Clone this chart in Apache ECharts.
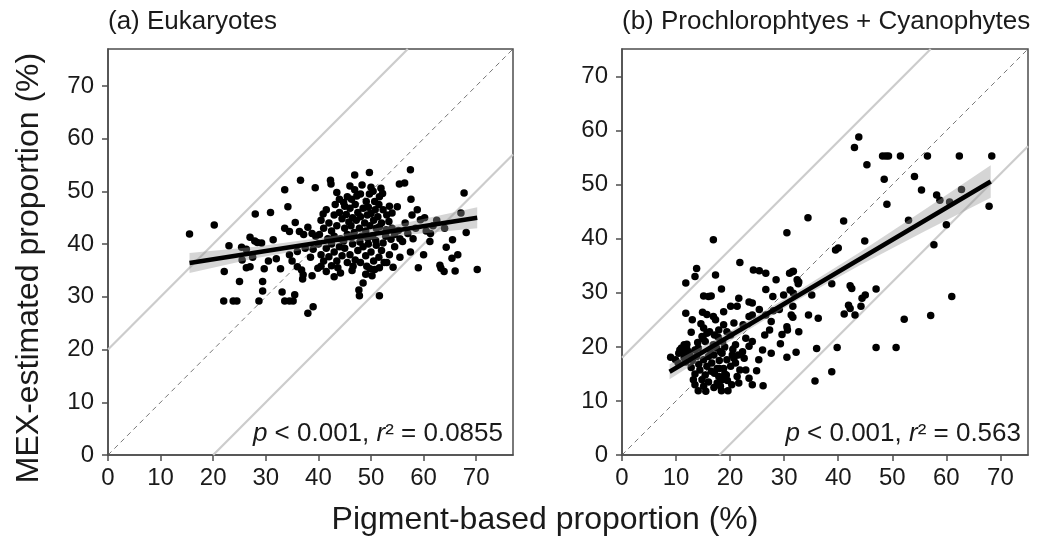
<!DOCTYPE html>
<html>
<head>
<meta charset="utf-8">
<title>MEX vs pigment proportions</title>
<script src="https://cdn.jsdelivr.net/npm/echarts@6/dist/echarts.min.js"></script>
<style>
    html, body { margin: 0; padding: 0; background: #fff; }
    #chart { width: 1060px; height: 542px; }
</style>
</head>
<body>
<div id="chart"></div>
<script>
// axis ticks (both panels)
var tickVals = [0, 10, 20, 30, 40, 50, 60, 70];
var axisMaxA = 77;
var axisMaxB = 75.1;

// (a) Eukaryotes: [pigment %, MEX %]
var eukPts = [
    [15.5, 41.9], [20.2, 43.6], [23.0, 39.7], [22.1, 34.8], [22.0, 29.2], [23.8, 29.2], [24.5, 29.2], [25.0, 32.9],
    [26.3, 35.5], [27.0, 35.7], [25.4, 39.4], [26.3, 39.0], [27.0, 41.3], [27.9, 40.6], [28.4, 40.3], [29.2, 40.2],
    [31.4, 40.8], [28.0, 45.7], [30.9, 46.0], [28.7, 29.2], [29.4, 32.9], [29.4, 31.1], [29.7, 35.3], [25.5, 37.0],
    [27.5, 37.5], [30.5, 36.8], [32.0, 37.2], [33.6, 50.3], [34.2, 47.1], [36.6, 52.1], [39.4, 50.7], [40.9, 45.7],
    [33.6, 43.0], [34.5, 42.4], [35.6, 44.1], [36.4, 42.4], [37.2, 41.8], [38.0, 43.2], [38.8, 42.0], [39.5, 41.5],
    [32.8, 35.3], [33.1, 30.9], [33.6, 29.2], [34.5, 29.2], [35.2, 29.2], [35.5, 30.4], [36.0, 35.7], [36.8, 35.1],
    [37.1, 34.2], [37.0, 33.4], [39.0, 28.1], [38.0, 26.9], [39.9, 35.4], [34.5, 38.0], [36.0, 38.6], [37.5, 39.2],
    [35.0, 36.8], [38.5, 37.5], [39.0, 39.0],
    [42.3, 52.1], [42.4, 51.4], [46.9, 53.1], [49.7, 53.6], [57.5, 54.1], [55.4, 51.4], [56.4, 51.6], [48.3, 51.2],
    [50.0, 50.8], [50.4, 50.0], [49.7, 49.5], [51.9, 50.6], [52.2, 49.6], [51.6, 49.0], [50.7, 48.1], [49.1, 48.1],
    [46.9, 50.3], [47.3, 49.1], [46.3, 48.5], [57.6, 48.5], [67.7, 49.7], [67.1, 45.9], [68.1, 42.2], [70.2, 35.2],
    [55.0, 47.1], [54.0, 45.9], [53.4, 44.3], [51.6, 43.3], [52.9, 42.7],
    [61.3, 42.0], [64.3, 39.4], [65.4, 37.3], [63.1, 36.0], [63.3, 35.4], [63.9, 34.8], [66.0, 34.9], [59.4, 44.6],
    [60.5, 42.5], [61.2, 40.5], [58.5, 43.0], [57.0, 42.0], [58.0, 41.0], [56.0, 40.5], [57.5, 38.5], [55.5, 37.5],
    [60.0, 38.0], [59.0, 35.5], [54.2, 35.6], [51.6, 35.5], [50.7, 35.2], [49.8, 35.3], [49.2, 35.8], [46.6, 35.8],
    [43.7, 35.5], [42.5, 35.9], [48.5, 32.6], [47.7, 31.3], [47.8, 30.2], [51.6, 30.2], [52.5, 36.5], [53.5, 38.0],
    [54.5, 39.5], [55.5, 41.0],
    [40.5, 44.5], [41.0, 43.0], [41.5, 46.5], [42.0, 44.0], [42.5, 42.5], [43.0, 45.5], [43.2, 47.5], [43.5, 43.5],
    [44.0, 46.0], [44.2, 41.0], [44.5, 44.8], [45.0, 47.2], [45.0, 43.0], [45.3, 45.6], [45.5, 41.8], [45.8, 44.2],
    [46.0, 46.8], [46.2, 43.5], [46.5, 45.0], [46.8, 42.2], [47.0, 47.5], [47.2, 44.5], [47.5, 46.0], [47.8, 43.0],
    [48.0, 45.2], [48.2, 41.5], [48.5, 46.8], [48.8, 44.0], [49.0, 42.5], [49.3, 45.5], [49.5, 47.0], [49.8, 43.5],
    [50.0, 45.8], [50.3, 41.5], [50.5, 44.5], [50.8, 46.5], [51.0, 43.0], [51.3, 45.2], [51.5, 47.5], [52.0, 44.0],
    [52.3, 46.5], [52.8, 41.5], [53.0, 45.5], [53.5, 47.2], [54.0, 43.0], [54.5, 41.8], [44.0, 48.5], [45.5, 49.0],
    [46.0, 51.0], [48.0, 49.5], [43.5, 49.8], [44.8, 47.9],
    [40.0, 40.0], [40.5, 38.0], [41.0, 36.8], [41.5, 39.2], [42.0, 37.6], [42.5, 40.0], [43.0, 38.5], [43.5, 36.8],
    [44.0, 39.5], [44.5, 37.8], [45.0, 39.2], [45.5, 36.5], [46.0, 38.0], [46.5, 40.0], [47.0, 37.0], [47.5, 38.8],
    [48.0, 36.5], [48.5, 39.5], [49.0, 37.8], [49.5, 40.0], [50.0, 38.5], [50.5, 36.8], [51.0, 39.8], [51.5, 37.5],
    [52.0, 38.8], [53.0, 36.5], [44.2, 34.5], [46.4, 35.0], [49.0, 34.3], [50.2, 34.0], [41.5, 34.8], [43.0, 33.8],
    [40.5, 35.8], [38.8, 34.0],
    [40.2, 41.8], [41.8, 41.0], [43.0, 41.5], [44.8, 40.6], [46.3, 41.3], [47.9, 40.4], [49.4, 41.1], [50.9, 40.7],
    [52.3, 40.2], [53.8, 40.9], [55.2, 42.6], [56.5, 44.0], [57.8, 45.5], [58.8, 46.5], [60.2, 45.0], [61.8, 43.5],
    [62.5, 44.5], [64.0, 43.0], [65.5, 40.8], [66.5, 38.0]
];
var eukFit = [[15.5, 36.4], [70.2, 45.0]];
var eukBandX = [15.5, 28, 42, 56, 70.2];
var eukBandLo = [34.5, 37.3, 39.8, 41.7, 43.0];
var eukBandHi = [38.3, 39.5, 41.4, 43.9, 47.0];
var eukUpper = [[0, 20], [57, 77]];
var eukLower = [[20, 0], [77, 57]];
var eukIdentity = [[0, 0], [77, 77]];

// (b) Prochlorophytes + Cyanophytes
var cyaPts = [
    [16.9, 39.8], [13.8, 34.5], [13.5, 33.0], [17.3, 33.3], [21.8, 35.6], [24.3, 34.2], [25.4, 34.1], [26.6, 33.6],
    [30.5, 41.1], [31.5, 33.9], [34.4, 43.9], [43.0, 56.9], [43.8, 58.8], [45.3, 53.7], [41.0, 43.3], [39.5, 37.9],
    [40.0, 38.3], [44.9, 39.6], [48.2, 55.3], [48.8, 55.3], [49.3, 55.3], [51.5, 55.3], [56.5, 55.3], [62.4, 55.3],
    [68.4, 55.3], [48.5, 51.0], [49.0, 46.4], [54.1, 51.5], [55.4, 49.0], [58.2, 48.1], [58.8, 47.1], [60.6, 46.8],
    [62.8, 49.1], [53.0, 43.4], [60.0, 42.6], [57.7, 38.9], [67.9, 46.0],
    [31.7, 34.0], [32.7, 32.0], [31.1, 30.5], [31.7, 29.9], [38.8, 31.7], [35.1, 29.6], [42.2, 31.3], [42.5, 30.8],
    [47.0, 30.7], [45.0, 29.6], [44.4, 29.0], [41.9, 27.7], [42.2, 27.1], [44.2, 27.5], [41.1, 26.1], [43.1, 25.9],
    [36.3, 25.3], [34.5, 25.9], [31.6, 25.5], [30.5, 23.7], [30.6, 23.1], [29.6, 22.3], [32.7, 22.8], [29.3, 20.6],
    [32.2, 19.0], [30.5, 18.1], [36.0, 19.7], [39.8, 19.9], [47.0, 19.9], [50.7, 19.9], [52.2, 25.1], [57.1, 25.8],
    [61.0, 29.3], [38.8, 15.4], [35.7, 13.7],
    [27.6, 18.8], [26.4, 22.2], [26.1, 12.8], [24.1, 13.0], [24.9, 15.6], [25.3, 17.6], [26.0, 19.4], [24.1, 28.1],
    [23.5, 28.3], [21.6, 29.0], [21.3, 27.5], [23.5, 25.6], [24.1, 25.9], [22.4, 24.1], [22.9, 21.6], [22.3, 19.1],
    [22.6, 17.9], [21.0, 20.4], [20.7, 17.9], [21.0, 17.0], [21.8, 15.7], [21.3, 14.5], [21.6, 13.3], [19.6, 11.9],
    [18.4, 11.9], [20.3, 13.0], [18.5, 13.9], [19.3, 14.8], [18.8, 16.0], [18.2, 19.1], [18.6, 21.0], [18.4, 30.7],
    [16.5, 29.4], [16.0, 29.3], [15.1, 29.4], [11.8, 31.8], [11.8, 26.2], [13.0, 25.0], [12.8, 22.7], [14.9, 26.4],
    [14.6, 24.3], [15.1, 23.5], [16.9, 25.6], [17.3, 25.0], [18.8, 26.5], [20.1, 27.5], [20.7, 24.4], [9.0, 18.1],
    [9.9, 17.6], [10.4, 17.0], [10.7, 19.4], [11.5, 20.4], [11.9, 20.1], [11.3, 18.8], [12.3, 19.1], [13.5, 19.4],
    [14.1, 19.8], [13.2, 13.9], [13.5, 13.0], [14.1, 11.9], [15.1, 12.7], [14.8, 13.9], [15.4, 14.8], [14.4, 15.7],
    [15.7, 16.4], [15.1, 17.6], [16.0, 18.2], [16.6, 17.0], [17.6, 16.0], [17.1, 15.1], [17.9, 14.5], [17.6, 13.3],
    [18.2, 12.7], [16.3, 19.4], [16.9, 20.4], [15.4, 21.0], [14.8, 21.9], [15.7, 22.5], [17.1, 22.2], [17.9, 23.1],
    [18.8, 24.1], [19.4, 22.8], [20.1, 22.2], [20.4, 18.5], [20.1, 16.4], [19.4, 17.6], [22.9, 15.7], [23.5, 14.2],
    [27.9, 29.3], [28.5, 32.4], [26.6, 30.6], [28.0, 26.7], [27.6, 24.7], [27.3, 23.1], [29.1, 26.9], [29.9, 29.6],
    [31.0, 33.6], [32.4, 32.4], [32.6, 31.7], [31.6, 27.5], [31.3, 25.9], [26.6, 25.9], [25.4, 26.9], [24.1, 21.0],
    [23.5, 20.1], [15.7, 26.0],
    [11.5, 18.0], [12.0, 19.5], [12.5, 18.5], [13.0, 17.5], [13.8, 18.2], [14.2, 16.8], [12.8, 16.2], [13.5, 15.0],
    [16.5, 15.5], [17.0, 18.5], [17.5, 19.8], [18.0, 17.5], [18.5, 18.8], [19.0, 15.0], [19.5, 13.8], [16.0, 13.5],
    [17.0, 12.5], [15.5, 11.8], [12.0, 20.5], [11.0, 19.8], [10.5, 18.8], [11.8, 17.2], [14.0, 20.8], [15.0, 21.5],
    [16.2, 22.8], [17.8, 21.8], [19.0, 20.0], [20.5, 19.5], [21.5, 18.5], [18.0, 16.0]
];
var cyaFit = [[8.8, 15.4], [68.2, 50.6]];
var cyaBandX = [8.8, 20, 32, 44, 56, 68.2];
var cyaBandLo = [14.0, 21.1, 28.4, 35.1, 41.4, 47.6];
var cyaBandHi = [16.8, 22.9, 30.0, 37.5, 45.4, 53.6];
var cyaUpper = [[0, 18], [57.1, 75.1]];
var cyaLower = [[18, 0], [75.1, 57.1]];
var cyaIdentity = [[0, 0], [75.1, 75.1]];

var FONT = '"Liberation Sans", Arial, sans-serif';
var frameColor = '#4d4d4d';
var textColor = '#1a1a1a';

function merge(a, b) {
    for (var k in b) {
        a[k] = b[k];
    }
    return a;
}

function makeAxis(idx, max, margin) {
    return {
        type: 'value',
        gridIndex: idx,
        min: 0,
        max: max,
        interval: 10,
        axisLine: { show: true, onZero: false, lineStyle: { color: frameColor, width: 1.5 } },
        axisTick: { show: true, length: 6, customValues: tickVals, lineStyle: { color: frameColor, width: 1.5 } },
        axisLabel: { customValues: tickVals, fontSize: 24, fontFamily: FONT, color: textColor, margin: margin },
        splitLine: { show: false }
    };
}

// confidence band drawn as one polygon through the axis scales
function bandRenderer(xs, lo, hi) {
    return function (params, api) {
        if (params.dataIndex !== 0) {
            return;
        }
        var pts = [];
        for (var i = 0; i < xs.length; i++) {
            pts.push(api.coord([xs[i], hi[i]]));
        }
        for (var j = xs.length - 1; j >= 0; j--) {
            pts.push(api.coord([xs[j], lo[j]]));
        }
        return {
            type: 'polygon',
            shape: { points: pts },
            style: { fill: 'rgba(150,150,150,0.4)' }
        };
    };
}

function panelSeries(idx, pts, fit, bx, blo, bhi, upper, lower, identity) {
    var guide = { color: '#cccccc', width: 2.2 };
    var base = { xAxisIndex: idx, yAxisIndex: idx, silent: true };
    return [
        merge({ type: 'line', data: upper, symbol: 'none', lineStyle: guide, z: 1 }, base),
        merge({ type: 'line', data: lower, symbol: 'none', lineStyle: guide, z: 1 }, base),
        merge({ type: 'line', data: identity, symbol: 'none', z: 1,
            lineStyle: { color: '#555', width: 0.8, type: [5, 4] } }, base),
        merge({ type: 'scatter', data: pts, symbolSize: 7.5, z: 2,
            itemStyle: { color: '#000', opacity: 1 } }, base),
        merge({ type: 'custom', z: 3, renderItem: bandRenderer(bx, blo, bhi),
            data: bx.map(function (x, i) { return [x, blo[i], bhi[i]]; }),
            encode: { x: 0, y: [1, 2] } }, base),
        merge({ type: 'line', data: fit, symbol: 'none', z: 4,
            lineStyle: { color: '#000', width: 4.5 } }, base)
    ];
}

// p / r² note with italic letters
function statNote(x, r2) {
    var it = { fontStyle: 'italic', fontSize: 26, fontFamily: FONT, fill: textColor };
    return {
        type: 'text', x: x, y: 434, z: 10,
        style: {
            text: '{i|p} < 0.001, {i|r}\u00b2 = ' + r2,
            fontSize: 26, fontFamily: FONT, fill: textColor,
            textAlign: 'right', textVerticalAlign: 'middle',
            rich: { i: it }
        }
    };
}

var myChart = echarts.init(document.getElementById('chart'), null, { renderer: 'canvas' });
myChart.setOption({
    animation: false,
    backgroundColor: '#fff',
    grid: [
        { left: 108, top: 49, width: 405, height: 406, show: true, borderColor: frameColor, borderWidth: 1.5 },
        { left: 622, top: 49, width: 406, height: 406, show: true, borderColor: frameColor, borderWidth: 1.5 }
    ],
    xAxis: [makeAxis(0, axisMaxA, 11), makeAxis(1, axisMaxB, 11)],
    yAxis: [makeAxis(0, axisMaxA, 14), makeAxis(1, axisMaxB, 14)],
    series: panelSeries(0, eukPts, eukFit, eukBandX, eukBandLo, eukBandHi, eukUpper, eukLower, eukIdentity)
        .concat(panelSeries(1, cyaPts, cyaFit, cyaBandX, cyaBandLo, cyaBandHi, cyaUpper, cyaLower, cyaIdentity)),
    graphic: [
        { type: 'text', x: 108, y: 22, style: { text: '(a) Eukaryotes', fontSize: 26, fontFamily: FONT, fill: textColor, textAlign: 'left', textVerticalAlign: 'middle' } },
        { type: 'text', x: 622, y: 22, style: { text: '(b) Prochlorophtyes + Cyanophytes', fontSize: 26, fontFamily: FONT, fill: textColor, textAlign: 'left', textVerticalAlign: 'middle' } },
        { type: 'text', x: 29, y: 268, rotation: Math.PI / 2, style: { text: 'MEX-estimated proportion (%)', fontSize: 32, fontFamily: FONT, fill: textColor, textAlign: 'center', textVerticalAlign: 'middle' } },
        { type: 'text', x: 545, y: 520, style: { text: 'Pigment-based proportion (%)', fontSize: 32, fontFamily: FONT, fill: textColor, textAlign: 'center', textVerticalAlign: 'middle' } },
        statNote(503, '0.0855'),
        statNote(1021, '0.563')
    ]
});
</script>
</body>
</html>
